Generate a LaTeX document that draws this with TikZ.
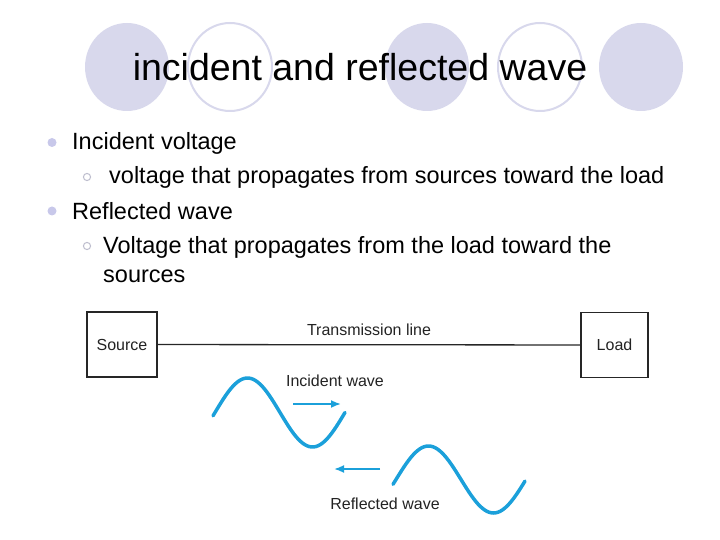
\documentclass[tikz,border=0pt]{standalone}
\usepackage{fontspec}
\setmainfont{Liberation Sans}
\usetikzlibrary{arrows.meta,positioning}
\definecolor{lavender}{RGB}{216,216,236}
\definecolor{dotblue}{RGB}{200,200,234}
\definecolor{ringgray}{RGB}{190,190,206}
\definecolor{wave}{RGB}{27,160,218}
\definecolor{labelgray}{RGB}{35,35,35}

\begin{document}
\begin{tikzpicture}[x=1pt,y=-1pt,>=Latex,
  ring/.style={draw=lavender,line width=2pt,fill=white},
  item/.style={anchor=base west,inner sep=0pt,font=\fontsize{23.5}{28}\selectfont},
  box/.style={draw=black!85,line width=1.8pt,minimum width=70pt,minimum height=65pt,inner sep=0pt,font=\fontsize{16}{19}\selectfont,text=labelgray},
  lbl/.style={inner sep=0pt,font=\fontsize{16}{19}\selectfont,text=labelgray},
  sine/.style={wave,line width=3.5pt,line cap=round},
  hint/.style={-{Latex[length=10pt,width=8pt]},wave,line width=1.8pt}]
\useasboundingbox (0,0) rectangle (720,540);

% Title with the circles behind it
\foreach \cx in {127,427,641}
\fill[lavender] (\cx,67) ellipse [x radius=42pt,y radius=44pt];
\foreach \cx in {230,540}
\draw[ring] (\cx,67) ellipse [x radius=42pt,y radius=44pt];
\node[anchor=base,inner sep=0pt,font=\fontsize{37.5}{40}\selectfont] (title) at (360,81) {incident and reflected wave};

% Bullet list
\foreach \by in {142.5,211}
\fill[dotblue] (52,\by) circle [radius=4.5pt];
\foreach \by in {177,246}
\draw[ringgray,line width=1pt] (87,\by) circle [radius=3.6pt];
\node[item] (inc) at (72,150) {Incident voltage};
\node[item] (incdef) at (109,184) {voltage that propagates from sources toward the load};
\node[item] (ref) at (72,219) {Reflected wave};
\node[item] (refdef) at (103,253) {Voltage that propagates from the load toward the};
\node[item] (refdef2) at (103,282) {sources};

% Source, line and load
\node[box] (source) at (122,344.5) {Source};
\node[box,minimum width=67pt] (load) at (614.5,345) {Load};
\draw[line width=1.3pt,black!85] (source) -- node[lbl,above=8pt] (tline) {Transmission line} (load);

% Travelling waves
\draw[sine] plot[domain=213:345,samples=60] (\x,{412.5-34.5*sin(2.7692*(\x-215))});
\draw[sine] plot[domain=393:525,samples=60] (\x,{479.5-33.5*sin(2.7692*(\x-396))});
\node[lbl] (incident) at (335,381) {Incident wave};
\node[lbl] (reflected) at (385,504) {Reflected wave};
\coordinate (inc-a) at (293,404);
\coordinate (inc-b) at (341,404);
\coordinate (ref-a) at (380,469);
\coordinate (ref-b) at (334,469);
\draw[hint] (inc-a) -- (inc-b);
\draw[hint] (ref-a) -- (ref-b);
\end{tikzpicture}
\end{document}
